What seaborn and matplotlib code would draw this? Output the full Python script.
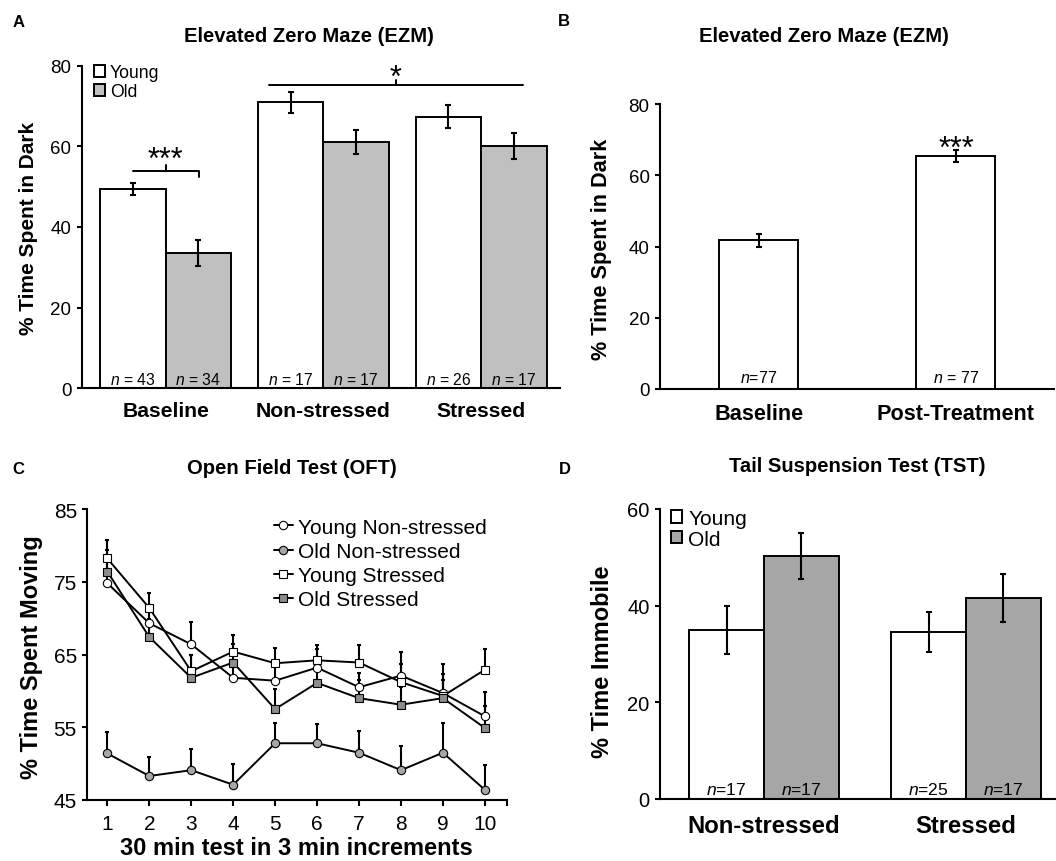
import numpy as np
import pandas as pd
import matplotlib
matplotlib.use("Agg")
import matplotlib.pyplot as plt
import seaborn as sns

sns.set_style("ticks", {"axes.edgecolor": "black", "xtick.color": "black",
                        "ytick.color": "black", "text.color": "black",
                        "axes.labelcolor": "black"})
plt.rcParams['font.family'] = ['Liberation Sans', 'DejaVu Sans']
plt.rcParams['mathtext.fontset'] = 'custom'
plt.rcParams['mathtext.rm'] = 'Liberation Sans'
plt.rcParams['mathtext.it'] = 'Liberation Sans:italic'
plt.rcParams['axes.linewidth'] = 1.5

# A - EZM por edad y condicion
ezm_groups = ['Baseline', 'Non-stressed', 'Stressed']
ezm_young = [49.4, 70.9, 67.4]
ezm_young_err = [1.5, 2.6, 2.8]
ezm_old = [33.6, 61.0, 60.1]
ezm_old_err = [3.3, 3.0, 3.3]
ezm_young_n = [43, 17, 26]
ezm_old_n = [34, 17, 17]

# B - EZM antes / despues
ezm_b_groups = ['Baseline', 'Post-Treatment']
ezm_b_vals = [41.7, 65.5]
ezm_b_err = [1.8, 1.7]
ezm_b_n = ['$n$=77', '$n$ = 77']

# C - OFT
oft_bins = list(range(1, 11))
oft_young_ns = [74.8, 69.3, 66.4, 61.8, 61.4, 63.2, 60.5, 62.1, 59.7, 56.5]
oft_young_ns_err = [3.0, 2.5, 3.0, 2.5, 2.5, 2.5, 2.0, 3.3, 4.0, 3.3]
oft_old_ns = [51.4, 48.3, 49.1, 47.1, 52.8, 52.8, 51.5, 49.1, 51.5, 46.4]
oft_old_ns_err = [3.0, 2.6, 2.9, 2.8, 2.8, 2.6, 3.0, 3.3, 4.1, 3.4]
oft_young_s = [78.2, 71.4, 62.7, 65.4, 63.8, 64.2, 63.9, 61.2, 59.3, 62.9]
oft_young_s_err = [2.5, 2.0, 2.3, 2.3, 2.1, 2.15, 2.45, 2.5, 3.0, 2.8]
oft_old_s = [76.4, 67.4, 61.8, 63.9, 57.5, 61.1, 59.0, 58.1, 59.0, 54.9]
oft_old_s_err = [3.0, 2.5, 3.2, 2.5, 2.7, 2.5, 2.5, 2.5, 2.5, 3.0]

# D - TST
tst_groups = ['Non-stressed', 'Stressed']
tst_young = [35.0, 34.5]
tst_young_err = [4.9, 4.1]
tst_old = [50.3, 41.6]
tst_old_err = [4.8, 4.9]
tst_young_n = [17, 25]
tst_old_n = [17, 17]

W, H = 1056, 862
fig = plt.figure(figsize=(W / 100, H / 100), dpi=100)


def px_axes(left, top, right, bottom):
    return fig.add_axes([left / W, 1 - bottom / H, (right - left) / W, (bottom - top) / H])


def bold_xticks(ax, size, pad):
    ax.tick_params(axis='x', length=0, pad=pad, labelsize=size)
    for lbl in ax.get_xticklabels():
        lbl.set_fontweight('bold')


def grouped_bars(ax, groups, young, old, yerr_y, yerr_o, n_y, n_o, old_color, width, nsize):
    df = pd.DataFrame({'group': groups * 2,
                       'age': ['Young'] * len(groups) + ['Old'] * len(groups),
                       'value': young + old})
    sns.barplot(data=df, x='group', y='value', hue='age', order=groups,
                hue_order=['Young', 'Old'], palette={'Young': 'white', 'Old': old_color},
                edgecolor='black', linewidth=1.4, width=width, saturation=1,
                errorbar=None, ax=ax)
    idx = np.arange(len(groups))
    for h, (vals, errs, ns) in enumerate([(young, yerr_y, n_y), (old, yerr_o, n_o)]):
        xs = idx + (h - 0.5) * width / 2
        ax.errorbar(xs, vals, yerr=errs, fmt='none', ecolor='black',
                    elinewidth=1.5, capsize=2, capthick=1.5, zorder=3)
        for x, n in zip(xs, ns):
            ax.text(x, 1.0, nsize[1].format(n), ha='center', va='baseline', fontsize=nsize[0])


# ---------- A ----------
axA = px_axes(81.7, 66.7, 560, 389.3)
grouped_bars(axA, ezm_groups, ezm_young, ezm_old, ezm_young_err, ezm_old_err,
             ezm_young_n, ezm_old_n, '#c0c0c0', 0.83, (11.3, '$n$ = {}'))
axA.set_xlim(-0.532, 2.5)
axA.set_ylim(0, 80)
axA.set_yticks([0, 20, 40, 60, 80])
axA.tick_params(axis='y', direction='out', length=3.5, width=1.5, pad=4, labelsize=13.5)
bold_xticks(axA, 15.2, 9)
axA.set_xlabel('')
axA.set_ylabel('% Time Spent in Dark', fontsize=15, fontweight='bold', va='center')
axA.yaxis.set_label_coords(-0.112, 0.5)
sns.move_legend(axA, 'upper left', bbox_to_anchor=(0.026, 1.005), title=None,
                frameon=False, fontsize=12.7, handlelength=0.63, handleheight=0.63,
                handletextpad=0.27, labelspacing=0.12, borderpad=0, borderaxespad=0)
# significancia
axA.plot([-0.209, 0.213, 0.213], [54.0, 54.0, 52.3], color='black', lw=1.4)
axA.plot([0, 0], [54.0, 55.4], color='black', lw=1.4)
axA.text(0, 54.6, '***', ha='center', va='baseline', fontsize=22)
axA.plot([0.657, 2.266], [75.1, 75.1], color='black', lw=1.4)
axA.plot([1.458, 1.458], [75.1, 76.5], color='black', lw=1.4)
axA.text(1.458, 75.0, '*', ha='center', va='baseline', fontsize=22)
sns.despine(ax=axA)

# ---------- B ----------
axB = px_axes(660, 105, 1054, 390)
sns.barplot(x=ezm_b_groups, y=ezm_b_vals, color='white', edgecolor='black',
            linewidth=1.4, width=0.4, saturation=1, errorbar=None, ax=axB)
axB.errorbar(np.arange(2), ezm_b_vals, yerr=ezm_b_err, fmt='none', ecolor='black',
             elinewidth=1.5, capsize=2, capthick=1.5, zorder=3)
for x, t in enumerate(ezm_b_n):
    axB.text(x, 1.9, t, ha='center', va='baseline', fontsize=11.5)
axB.text(1, 65.2, '***', ha='center', va='baseline', fontsize=22)
axB.set_xlim(-0.5, 1.497)
axB.set_ylim(0, 80)
axB.set_yticks([0, 20, 40, 60, 80])
axB.tick_params(axis='y', direction='out', length=3.5, width=1.5, pad=4, labelsize=13.5)
bold_xticks(axB, 15.6, 10)
axB.set_ylabel('% Time Spent in Dark', fontsize=15.6, fontweight='bold', va='center')
axB.yaxis.set_label_coords(-0.148, 0.495)
sns.despine(ax=axB)

# ---------- C ----------
axC = px_axes(87.3, 510, 506.7, 801)
series = [
    ('Young Non-stressed', oft_young_ns, oft_young_ns_err, 'o', 'white'),
    ('Old Non-stressed', oft_old_ns, oft_old_ns_err, 'o', '#a6a6a6'),
    ('Young Stressed', oft_young_s, oft_young_s_err, 's', 'white'),
    ('Old Stressed', oft_old_s, oft_old_s_err, 's', '#8c8c8c'),
]
for name, vals, errs, mk, fc in series:
    axC.errorbar(oft_bins, vals, yerr=[np.zeros(len(errs)), errs], fmt='none',
                 ecolor='black', elinewidth=1.5, capsize=1.2, capthick=1.5, zorder=2)
for name, vals, errs, mk, fc in series:
    sns.lineplot(x=oft_bins, y=vals, color='black', linewidth=1.4, marker=mk,
                 markerfacecolor=fc, markeredgecolor='black', markeredgewidth=0.8,
                 markersize=6, errorbar=None, label=name, ax=axC, zorder=3)
axC.set_xlim(0.523, 10.52)
axC.set_ylim(45, 85)
axC.set_yticks([45, 55, 65, 75, 85])
axC.set_xticks(oft_bins)
axC.set_xticks([10.52], minor=True)
axC.tick_params(axis='y', direction='out', length=3.5, width=1.5, pad=4, labelsize=15)
axC.tick_params(axis='x', which='both', direction='out', length=4, width=1.5, pad=6, labelsize=15)
axC.set_xlabel('30 min test in 3 min increments', fontsize=17, fontweight='bold', va='center')
axC.xaxis.set_label_coords(0.498, -0.163)
axC.set_ylabel('% Time Spent Moving', fontsize=17, fontweight='bold', va='center')
axC.yaxis.set_label_coords(-0.1326, 0.496)
axC.legend(loc='upper left', bbox_to_anchor=(0.445, 0.97), frameon=False, fontsize=15,
           handlelength=0.9, handletextpad=0.25, labelspacing=0.25, borderpad=0,
           borderaxespad=0)
sns.despine(ax=axC)

# ---------- D ----------
axD = px_axes(660, 510, 1056, 800)
grouped_bars(axD, tst_groups, tst_young, tst_old, tst_young_err, tst_old_err,
             tst_young_n, tst_old_n, '#a6a6a6', 0.74, (12.6, '$n$={}'))
axD.set_xlim(-0.515, 1.446)
axD.set_ylim(0, 60)
axD.set_yticks([0, 20, 40, 60])
axD.tick_params(axis='y', direction='out', length=3.5, width=1.5, pad=4, labelsize=14.5)
bold_xticks(axD, 17.2, 11)
axD.set_xlabel('')
axD.set_ylabel('% Time Immobile', fontsize=17, fontweight='bold', va='center')
axD.yaxis.set_label_coords(-0.144, 0.476)
sns.move_legend(axD, 'upper left', bbox_to_anchor=(0.028, 1.0), title=None,
                frameon=False, fontsize=15, handlelength=0.53, handleheight=0.53,
                handletextpad=0.3, labelspacing=0.08, borderpad=0, borderaxespad=0)
sns.despine(ax=axD)

# titulos y letras de panel
for x, y, t in [(309, 37, 'Elevated Zero Maze (EZM)'), (823.5, 37, 'Elevated Zero Maze (EZM)'),
                (292, 468.3, 'Open Field Test (OFT)'), (857.5, 466.7, 'Tail Suspension Test (TST)')]:
    fig.text(x / W, 1 - y / H, t, ha='center', va='center', fontsize=14.6, fontweight='bold')
for x, y, t in [(18.2, 22.7, 'A'), (564.2, 21.7, 'B'), (18.3, 470, 'C'), (565, 470, 'D')]:
    fig.text(x / W, 1 - y / H, t, ha='center', va='center', fontsize=12, fontweight='bold')

fig.savefig('out.png', dpi=100)
plt.close()
